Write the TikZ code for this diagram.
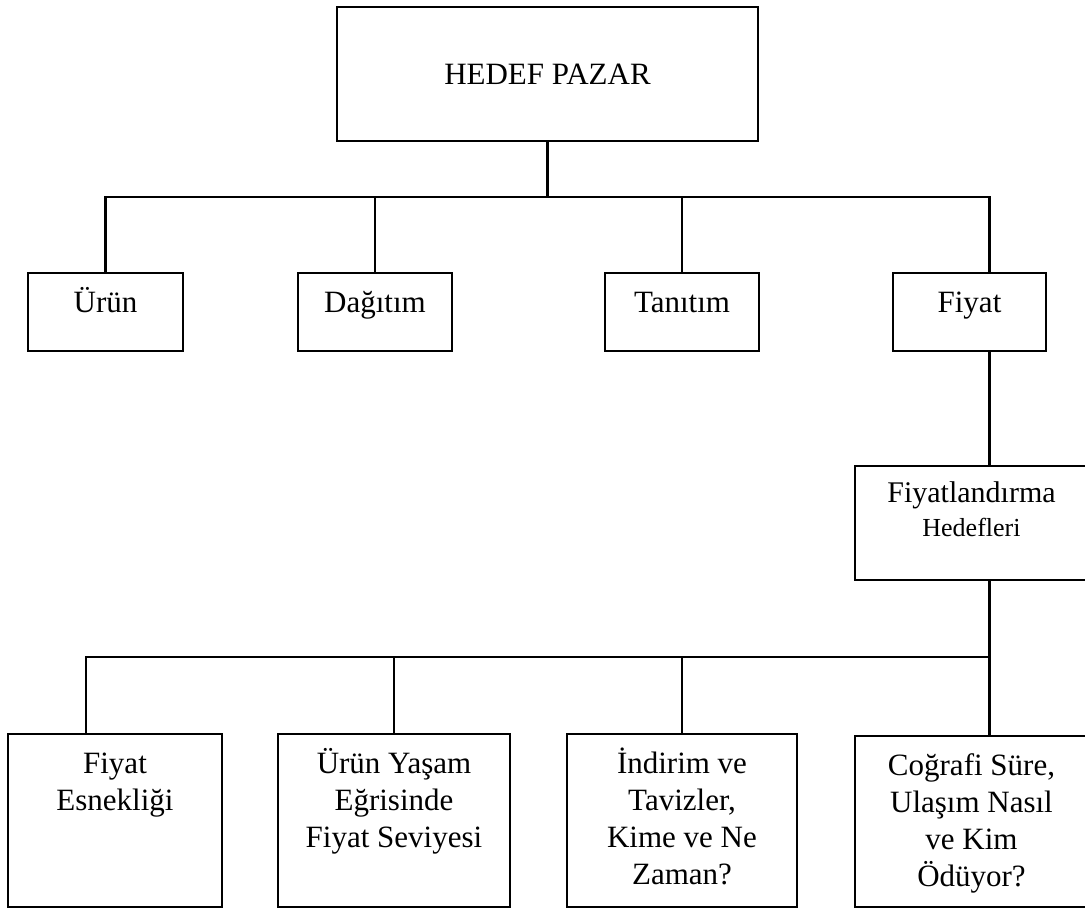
\documentclass[tikz,border=0pt]{standalone}
\usepackage{fontspec}
\setmainfont{Liberation Serif}
\newcommand{\lblstrut}{\rule{0pt}{29pt}}
\begin{document}
\begin{tikzpicture}[x=1pt,y=-1pt,
  box/.style={draw, line width=2.2pt, inner sep=0pt, rectangle},
  lbl/.style={font=\fontsize{31}{37}\selectfont, align=center, inner sep=0pt, anchor=north},
  link/.style={line width=2.2pt}]
\clip (0,0) rectangle (1085,909);

% root
\node[box, minimum width=421pt, minimum height=134pt, font=\fontsize{31}{37}\selectfont]
  (root) at (547.5,74) {HEDEF PAZAR};

% marketing mix row
\node[box, minimum width=155pt, minimum height=78pt] (urun)    at (105.5,312) {};
\node[box, minimum width=154pt, minimum height=78pt] (dagitim) at (375,312) {};
\node[box, minimum width=154pt, minimum height=78pt] (tanitim) at (682,312) {};
\node[box, minimum width=153pt, minimum height=78pt] (fiyat)   at (969.5,312) {};
\node[lbl] at ([yshift=-11pt]urun.north)    {\lblstrut Ürün};
\node[lbl] at ([yshift=-11pt]dagitim.north) {\lblstrut Dağıtım};
\node[lbl] at ([yshift=-11pt]tanitim.north) {\lblstrut Tanıtım};
\node[lbl] at ([yshift=-11pt]fiyat.north)   {\lblstrut Fiyat};

% pricing objectives
\node[box, minimum width=233pt, minimum height=114pt] (hedef) at (971.5,523) {};
\node[lbl, font=\fontsize{30}{37}\selectfont] at ([yshift=-8pt]hedef.north)
  {\lblstrut Fiyatlandırma\\[-3pt]{\fontsize{26}{31}\selectfont Hedefleri}};

% pricing decisions row
\node[box, minimum width=214pt, minimum height=173pt] (esnek)   at (115,820.5) {};
\node[box, minimum width=232pt, minimum height=173pt] (yasam)   at (394,820.5) {};
\node[box, minimum width=230pt, minimum height=173pt] (indirim) at (682,820.5) {};
\node[box, minimum width=233pt, minimum height=171pt] (cografi) at (971.5,821.5) {};
\node[lbl] at ([yshift=-11pt]esnek.north)   {\lblstrut Fiyat\\Esnekliği};
\node[lbl] at ([yshift=-11pt]yasam.north)   {\lblstrut Ürün Yaşam\\Eğrisinde\\Fiyat Seviyesi};
\node[lbl] at ([yshift=-11pt]indirim.north) {\lblstrut İndirim ve\\Tavizler,\\Kime ve Ne\\Zaman?};
\node[lbl] at ([yshift=-11pt]cografi.north) {\lblstrut Coğrafi Süre,\\Ulaşım Nasıl\\ve Kim\\Ödüyor?};

% bus lines and drop points
\coordinate (busA) at (0,197);
\coordinate (busB) at (0,657);
\coordinate (fdrop) at (989.5,273);
\coordinate (edrop) at (86,734);

\draw[link] (root.south) -- (root.south |- busA);
\draw[link] (urun.north) |- (fdrop |- busA) -- (fdrop);
\draw[link] (dagitim.north) -- (dagitim.north |- busA);
\draw[link] (tanitim.north) -- (tanitim.north |- busA);
\draw[link] (fiyat.south -| fdrop) -- (hedef.north -| fdrop);
\draw[link] (hedef.south -| fdrop) -- (cografi.north -| fdrop);
\draw[link] (edrop) |- (fdrop |- busB);
\draw[link] (yasam.north) -- (yasam.north |- busB);
\draw[link] (indirim.north) -- (indirim.north |- busB);
\end{tikzpicture}
\end{document}
